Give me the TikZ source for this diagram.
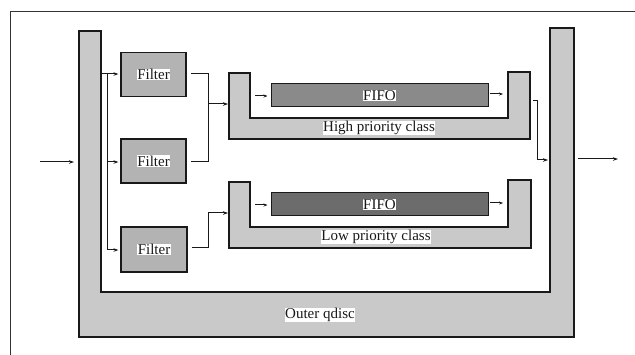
\documentclass[tikz,border=0pt]{standalone}
\usepackage{fontspec}
\setmainfont{Liberation Serif}
\usetikzlibrary{arrows.meta}
\definecolor{ushape}{HTML}{C9C9C9}
\definecolor{filtfill}{HTML}{B3B3B3}
\definecolor{fifohi}{HTML}{8A8A8A}
\definecolor{fifolo}{HTML}{6C6C6C}
\tikzset{
  conn/.style={line width=1pt, draw=black!90},
  arr/.style={conn, -{Stealth[length=5pt,width=3.5pt]}},
  ubox/.style={fill=ushape, draw=black!90, line width=1.2pt},
  filterbox/.style={rectangle, draw=black!90, line width=1.2pt, fill=filtfill, minimum width=65pt, minimum height=44pt, inner sep=0pt},
  fifobox/.style={rectangle, draw=black!90, line width=1pt, minimum width=217pt, minimum height=23pt, inner sep=0pt},
  lbl/.style={fill=white, inner sep=0.6pt, font=\fontsize{15}{16}\selectfont, text=black!90}
}
\begin{document}
\begin{tikzpicture}[x=1pt,y=-1pt]
\useasboundingbox (0,0) rectangle (635,355);
% outer frame
\draw[line width=1pt, black!80] (10,355) -- (10,12) -- (635,12);
% outer qdisc U
\draw[ubox] (79,31) -- (79,337) -- (574,337) -- (574,28) -- (550,28) -- (550,292) -- (101,292) -- (101,31) -- cycle;
\node[lbl] (outerlbl) at (320,315) {Outer qdisc};
% high class U
\draw[ubox] (229,73) -- (229,139) -- (530,139) -- (530,72) -- (508,72) -- (508,118) -- (250,118) -- (250,73) -- cycle;
\node[lbl] (hilbl) at (379,128) {High priority class};
% low class U
\draw[ubox] (229,182) -- (229,248) -- (531,248) -- (531,180) -- (508,180) -- (508,227) -- (250,227) -- (250,182) -- cycle;
\node[lbl] (lolbl) at (376,237) {Low priority class};
% FIFOs
\node[fifobox, fill=fifohi] (fifo1) at (379.5,95.5) {};
\node[lbl] at (fifo1) {FIFO};
\node[fifobox, fill=fifolo] (fifo2) at (379.5,204.5) {};
\node[lbl] at (fifo2) {FIFO};
% filters
\node[filterbox] (f1) at (153.5,74.5) {};
\node[lbl] at (f1) {Filter};
\node[filterbox] (f2) at (153.5,161) {};
\node[lbl] at (f2) {Filter};
\node[filterbox, minimum width=66pt, minimum height=45pt] (f3) at (154,249.5) {};
\node[lbl] at (f3) {Filter};
% coordinates
\coordinate (in) at (40,162);
\coordinate (inend) at (74,162);
\coordinate (trunktop) at (101,74);
\coordinate (tA) at (107,74);
\coordinate (tB) at (107,162);
\coordinate (tC) at (107,250);
\coordinate (m1) at (208,74);
\coordinate (m2) at (208,162);
\coordinate (m3) at (208,104);
\coordinate (hiin) at (228,104);
\coordinate (n1) at (208,248);
\coordinate (n2) at (208,213);
\coordinate (loin) at (228,213);
\coordinate (hiA) at (255,96);
\coordinate (hiB) at (490,94);
\coordinate (hiBend) at (503,94);
\coordinate (loA) at (255,205);
\coordinate (loB) at (490,203);
\coordinate (loBend) at (503,203);
\coordinate (hout1) at (533,101);
\coordinate (hout2) at (537,101);
\coordinate (hout3) at (537,160);
\coordinate (hout4) at (548,160);
\coordinate (out1) at (578,159);
\coordinate (out2) at (618,159);
% connectors
\draw[arr] (in) -- (inend);
\draw[arr] (trunktop) -- ([xshift=-2pt]f1.west |- tA);
\draw[conn] (tA) -- (tC);
\draw[arr] (tB) -- ([xshift=-2pt]f2.west |- tB);
\draw[arr] (tC) -- ([xshift=-2pt]f3.west |- tC);
\draw[conn] ([xshift=4pt]f1.east |- m1) -- (m1) -- (m2) -- ([xshift=4pt]f2.east |- m2);
\draw[arr] (m3) -- (hiin);
\draw[conn] ([xshift=4pt]f3.east |- n1) -- (n1) -- (n2);
\draw[arr] (n2) -- (loin);
\draw[arr, -{Stealth[length=4pt,width=3pt]}] (hiA) -- ([xshift=-3pt]fifo1.west |- hiA);
\draw[arr, -{Stealth[length=4pt,width=3pt]}] (hiB) -- (hiBend);
\draw[arr, -{Stealth[length=4pt,width=3pt]}] (loA) -- ([xshift=-3pt]fifo2.west |- loA);
\draw[arr, -{Stealth[length=4pt,width=3pt]}] (loB) -- (loBend);
\draw[arr] (hout1) -- (hout2) -- (hout3) -- (hout4);
\draw[arr] (out1) -- (out2);
\end{tikzpicture}
\end{document}
